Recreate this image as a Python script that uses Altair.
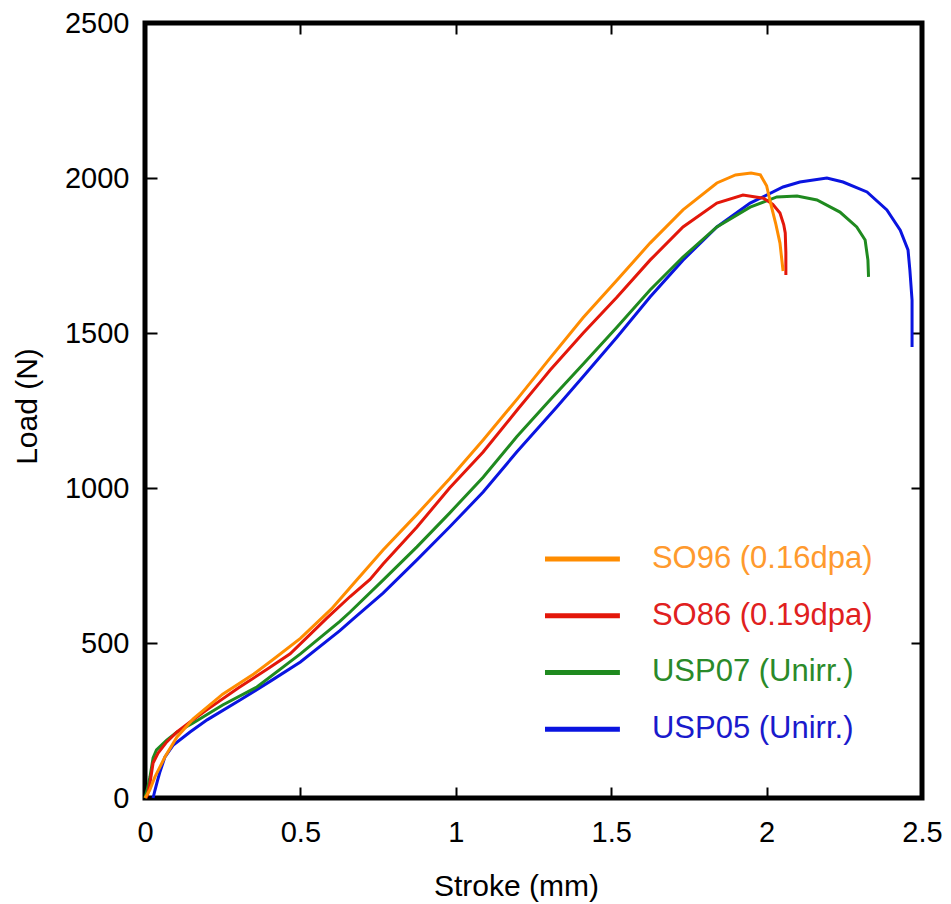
import altair as alt
import pandas as pd

# ---- data ----
so96_x = [0, 0.015, 0.032, 0.064, 0.103, 0.155, 0.25, 0.35, 0.41, 0.5, 0.6, 0.67, 0.766, 0.875, 0.98, 1.088, 1.2, 1.3, 1.41, 1.519, 1.625, 1.731, 1.84, 1.9, 1.95, 1.98, 2.0, 2.015, 2.03, 2.043, 2.053]
so96_y = [0, 25, 68, 132, 197, 255, 335, 400, 445, 515, 610, 690, 800, 915, 1030, 1155, 1290, 1415, 1550, 1671, 1790, 1897, 1984, 2010, 2016, 2010, 1975, 1910, 1850, 1790, 1700]

so86_x = [0.003, 0.008, 0.016, 0.026, 0.042, 0.07, 0.103, 0.145, 0.2, 0.3, 0.4, 0.467, 0.585, 0.66, 0.724, 0.766, 0.875, 0.98, 1.088, 1.2, 1.277, 1.303, 1.41, 1.519, 1.625, 1.731, 1.84, 1.924, 1.99, 2.02, 2.043, 2.055, 2.06, 2.062, 2.062]
so86_y = [0, 10, 48, 113, 145, 181, 213, 245, 285, 355, 420, 465, 580, 650, 705, 755, 874, 1000, 1116, 1255, 1348, 1380, 1500, 1616, 1735, 1842, 1919, 1945, 1935, 1915, 1887, 1850, 1823, 1760, 1687]

usp07_x = [0, 0.008, 0.016, 0.026, 0.037, 0.07, 0.103, 0.155, 0.25, 0.36, 0.5, 0.627, 0.66, 0.766, 0.875, 0.98, 1.088, 1.196, 1.303, 1.41, 1.519, 1.625, 1.731, 1.84, 1.947, 2.033, 2.098, 2.162, 2.236, 2.29, 2.317, 2.326, 2.328]
usp07_y = [0, 30, 68, 129, 155, 187, 213, 242, 300, 358, 465, 570, 600, 703, 810, 919, 1035, 1165, 1284, 1400, 1519, 1639, 1745, 1842, 1906, 1939, 1942, 1929, 1890, 1842, 1800, 1735, 1681]

usp05_x = [0.026, 0.032, 0.04, 0.048, 0.064, 0.09, 0.145, 0.2, 0.306, 0.41, 0.5, 0.627, 0.67, 0.766, 0.875, 0.98, 1.088, 1.196, 1.325, 1.41, 1.519, 1.625, 1.731, 1.84, 1.947, 2.053, 2.107, 2.194, 2.246, 2.323, 2.387, 2.43, 2.455, 2.461, 2.468, 2.468]
usp05_y = [0, 25, 55, 84, 132, 170, 213, 252, 316, 381, 439, 540, 578, 661, 768, 874, 987, 1116, 1261, 1360, 1487, 1616, 1735, 1842, 1919, 1971, 1987, 2000, 1987, 1955, 1897, 1832, 1768, 1703, 1606, 1455]

series_names = ["SO96 (0.16dpa)", "SO86 (0.19dpa)", "USP07 (Unirr.)", "USP05 (Unirr.)"]
line_colors = ["#ff8c00", "#e3170a", "#1f8a1f", "#0a14e0"]
text_colors = ["#ff9a2e", "#e02020", "#2a8a2a", "#1a1acc"]

x_ticks = [0, 0.5, 1, 1.5, 2, 2.5]
y_ticks = [0, 500, 1000, 1500, 2000, 2500]

# ---- build table (draw order: blue, green, red, orange) ----
xs = [so96_x, so86_x, usp07_x, usp05_x]
ys = [so96_y, so86_y, usp07_y, usp05_y]
rows = []
for k in [3, 2, 1, 0]:
    for i, (a, b) in enumerate(zip(xs[k], ys[k])):
        rows.append({"series": series_names[k], "stroke": a, "load": b, "i": i, "k": 3 - k})
df = pd.DataFrame(rows)

leg = pd.DataFrame({"label": series_names, "lc": line_colors, "tc": text_colors,
                    "idx": list(range(len(series_names)))})

FONT = "Liberation Sans"
xscale = alt.Scale(domain=[0, 2.5], nice=False, zero=False)
yscale = alt.Scale(domain=[0, 2500], nice=False)

lines = alt.Chart(df).mark_line(strokeWidth=3, interpolate="linear").encode(
    x=alt.X("stroke:Q", scale=xscale, title="Stroke (mm)",
            axis=alt.Axis(values=x_ticks, format=".1~f", orient="bottom", offset=-11,
                          tickSize=11, labelPadding=20, labelFlush=False,
                          titleX=371, titleY=99, titleBaseline="middle")),
    y=alt.Y("load:Q", scale=yscale, title="Load (N)",
            axis=alt.Axis(values=y_ticks, format="d", orient="left", offset=-12,
                          tickSize=12, labelPadding=16, labelFlush=False,
                          titleX=-130, titleY=383,
                          titleBaseline="middle", titleAlign="center", titleAngle=270)),
    color=alt.Color("series:N", scale=alt.Scale(domain=series_names, range=line_colors), legend=None),
    detail="k:N",
    order="i:Q",
)

ticks2 = alt.Chart(df).mark_point(opacity=0).encode(
    x=alt.X("stroke:Q", scale=xscale, title=None,
            axis=alt.Axis(values=x_ticks, orient="top", offset=-11, tickSize=11, labels=False)),
    y=alt.Y("load:Q", scale=yscale, title=None,
            axis=alt.Axis(values=y_ticks, orient="right", offset=-11, tickSize=11, labels=False)),
)

leg_base = alt.Chart(leg).transform_calculate(
    ly="771 - datum.idx * 183", lx1="1.287", lx2="1.528", tx="1.631"
)
leg_rules = leg_base.mark_rule(strokeWidth=5).encode(
    x=alt.X("lx1:Q", scale=xscale, axis=None),
    x2="lx2:Q",
    y=alt.Y("ly:Q", scale=yscale, axis=None),
    color=alt.Color("lc:N", scale=None),
)
leg_text = leg_base.mark_text(align="left", baseline="middle", font=FONT, fontSize=31).encode(
    x=alt.X("tx:Q", scale=xscale, axis=None),
    y=alt.Y("ly:Q", scale=yscale, axis=None),
    text="label:N",
    color=alt.Color("tc:N", scale=None),
)

chart = alt.layer(lines, ticks2, leg_rules, leg_text).resolve_axis(
    x="independent", y="independent"
).properties(
    width=777, height=775,
    background="white",
    autosize=alt.AutoSizeParams(type="none"),
    padding={"left": 137, "top": 15, "right": 21, "bottom": 110},
).configure_view(
    stroke="black", strokeWidth=5
).configure_axis(
    grid=False, domain=False, tickColor="black", tickWidth=2,
    labelFont=FONT, labelFontSize=29, labelColor="black",
    titleFont=FONT, titleFontSize=30, titleColor="black", titleFontWeight="normal",
)

chart.save("out.html", embed_options={"renderer": "svg", "actions": False})
